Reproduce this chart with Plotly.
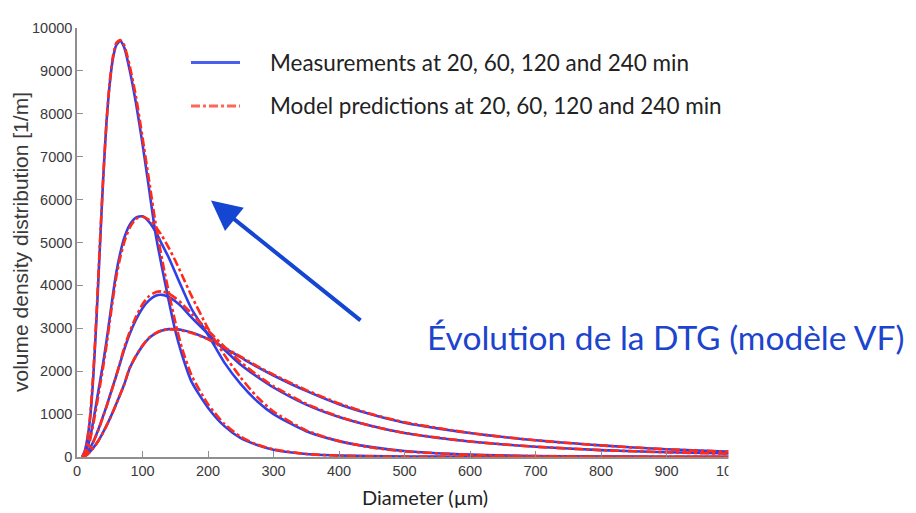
import plotly.graph_objects as go

# ---------------- data ----------------
diameter_um = [8, 12, 16, 20, 25, 30, 35, 40, 45, 50,
               55, 60, 66, 72, 80, 90, 100, 110, 120, 130,
               140, 150, 160, 175, 200, 225, 250, 275, 300, 350,
               400, 450, 500, 600, 700, 800, 900, 1000]

meas_240 = [0, 150, 450, 900, 1900, 3300, 4900, 6500, 7800, 8700,
            9300, 9600, 9700, 9550, 9050, 8250, 7300, 6250, 5200, 4400,
            3650, 2950, 2400, 1750, 1150, 720, 440, 280, 170, 70,
            35, 20, 12, 6, 3, 2, 1, 0]
model_240 = [0, 120, 420, 950, 2000, 3400, 5000, 6500, 7800, 8750,
             9350, 9650, 9720, 9600, 9150, 8400, 7450, 6450, 5450, 4600,
             3850, 3150, 2550, 1900, 1230, 770, 470, 290, 180, 70,
             30, 15, 8, 4, 2, 1, 1, 0]

meas_120 = [0, 80, 230, 450, 850, 1300, 1750, 2200, 2700, 3250,
            3800, 4300, 4750, 5100, 5400, 5580, 5610, 5480, 5250, 4950,
            4650, 4300, 3950, 3450, 2850, 2200, 1700, 1300, 1000, 600,
            370, 230, 140, 55, 25, 12, 6, 3]
model_120 = [0, 60, 190, 400, 780, 1200, 1650, 2100, 2600, 3150,
             3700, 4200, 4650, 5000, 5330, 5550, 5600, 5530, 5370, 5150,
             4880, 4580, 4250, 3750, 3000, 2380, 1850, 1400, 1060, 620,
             370, 220, 130, 50, 20, 10, 5, 2]

meas_60 = [0, 40, 110, 210, 360, 540, 740, 960, 1180, 1420,
           1660, 1900, 2200, 2500, 2850, 3200, 3470, 3650, 3760, 3780,
           3730, 3630, 3500, 3250, 2870, 2500, 2150, 1870, 1620, 1220,
           930, 720, 560, 360, 240, 160, 110, 80]
model_60 = [0, 35, 100, 200, 350, 530, 730, 950, 1170, 1410,
            1650, 1900, 2220, 2540, 2900, 3270, 3560, 3750, 3840, 3860,
            3810, 3710, 3580, 3340, 2950, 2570, 2210, 1910, 1650, 1240,
            940, 720, 560, 360, 240, 160, 110, 75]

meas_20 = [0, 25, 65, 125, 215, 320, 440, 580, 730, 890,
           1060, 1240, 1460, 1690, 2050, 2350, 2590, 2770, 2880, 2950,
           2980, 2980, 2960, 2900, 2750, 2540, 2320, 2100, 1900, 1540,
           1230, 990, 800, 560, 390, 270, 180, 120]
model_20 = [0, 20, 60, 120, 210, 315, 435, 575, 725, 885,
            1055, 1235, 1460, 1690, 2060, 2360, 2600, 2780, 2890, 2955,
            2975, 2970, 2950, 2890, 2750, 2550, 2340, 2120, 1920, 1560,
            1250, 1000, 810, 560, 390, 270, 180, 120]

x_ticks = [0, 100, 200, 300, 400, 500, 600, 700, 800, 900, 1000]
y_ticks = [0, 1000, 2000, 3000, 4000, 5000, 6000, 7000, 8000, 9000, 10000]

legend_labels = ["Measurements at 20, 60, 120 and 240 min",
                 "Model predictions at 20, 60, 120 and 240 min"]
x_title = "Diameter (µm)"
y_title = "volume density distribution [1/m]"
note_text = "Évolution de la DTG (modèle VF)"

measurements = [("20 min", meas_20), ("60 min", meas_60), ("120 min", meas_120), ("240 min", meas_240)]
models = [("20 min", model_20), ("60 min", model_60), ("120 min", model_120), ("240 min", model_240)]

# ---------------- figure ----------------
BLUE = "#3040e8"
RED = "#ff2a1a"
AXIS = "#8f8f8f"
TICKFONT = dict(family="Liberation Sans, Arial, sans-serif", size=14.5, color="#3a3a3a")
TEXTFONT = "Lato, 'Open Sans', sans-serif"

fig = go.Figure()
for lbl, ys in measurements:
    fig.add_trace(go.Scatter(
        x=diameter_um, y=ys, mode="lines", name="Measurement " + lbl,
        line=dict(color=BLUE, width=2.6, shape="spline", smoothing=0.6),
        showlegend=False, hoverinfo="skip"))
for lbl, ys in models:
    fig.add_trace(go.Scatter(
        x=diameter_um, y=ys, mode="lines", name="Model " + lbl,
        line=dict(color=RED, width=2.6, dash="dashdot", shape="spline", smoothing=0.6),
        showlegend=False, hoverinfo="skip"))

# page body has an 8px margin; layout numbers below are in screen pixels
OFF = 8
W, H = 916, 513
PLOT_L, PLOT_R, PLOT_T, PLOT_B = 77, 732, 22, 457   # screen pixels of the plot area
L = PLOT_L - OFF
T = PLOT_T - OFF
R = W - (PLOT_R - OFF)
B = H - (PLOT_B - OFF)
pw, ph = PLOT_R - PLOT_L, PLOT_B - PLOT_T


def px(sx):
    return (sx - PLOT_L) / pw


def py(sy):
    return (PLOT_B - sy) / ph


shapes = [
    # the reference picture is cropped at its right edge
    dict(type="rect", xref="paper", yref="paper", x0=px(728.5), x1=1.4, y0=-0.25, y1=1.1,
         fillcolor="white", line=dict(width=0), layer="above"),
    # legend samples
    dict(type="line", xref="paper", yref="paper", x0=px(191), x1=px(240), y0=py(57), y1=py(57),
         line=dict(color="#4a5ff0", width=3), layer="above"),
    dict(type="line", xref="paper", yref="paper", x0=px(191), x1=px(240), y0=py(101), y1=py(101),
         line=dict(color="#ff6655", width=3, dash="dashdot"), layer="above"),
]

annotations = [
    dict(text=legend_labels[0], xref="paper", yref="paper", x=px(268), y=py(57),
         xanchor="left", yanchor="middle", showarrow=False,
         font=dict(family=TEXTFONT, size=22.5, color="#222222")),
    dict(text=legend_labels[1], xref="paper", yref="paper", x=px(268), y=py(101),
         xanchor="left", yanchor="middle", showarrow=False,
         font=dict(family=TEXTFONT, size=22.5, color="#222222")),
    dict(text=x_title, xref="paper", yref="paper", x=px(425), y=py(498),
         xanchor="center", yanchor="middle", showarrow=False,
         font=dict(family=TEXTFONT, size=20, color="#222222")),
    dict(text=y_title, xref="paper", yref="paper", x=px(20), y=py(239), textangle=-90,
         xanchor="center", yanchor="middle", showarrow=False, borderpad=0,
         font=dict(family="Liberation Sans, Arial, sans-serif", size=21, color="#3a3a3a")),
    dict(text=note_text, xref="paper", yref="paper", x=px(425), y=py(335),
         xanchor="left", yanchor="middle", showarrow=False,
         font=dict(family=TEXTFONT, size=33.5, color="#1c44cc")),
    dict(text="", xref="paper", yref="paper", x=px(211), y=py(197),
         ax=151, ay=121, showarrow=True, arrowhead=2, arrowsize=1.5,
         arrowwidth=4, arrowcolor="#1446d2", standoff=0, startstandoff=0),
]

fig.update_layout(
    width=W, height=H,
    margin=dict(l=L, r=R, t=T, b=B, pad=0),
    paper_bgcolor="white", plot_bgcolor="white",
    showlegend=False,
    shapes=shapes, annotations=annotations,
    xaxis=dict(range=[0, 1000], tickvals=x_ticks, ticktext=[str(v) for v in x_ticks],
               ticks="inside", ticklen=6, tickcolor=AXIS, tickwidth=1,
               showline=True, linecolor=AXIS, linewidth=1.5, mirror=False,
               showgrid=False, zeroline=False, tickfont=TICKFONT),
    yaxis=dict(range=[0, 10000], tickvals=y_ticks, ticktext=[str(v) for v in y_ticks],
               ticks="inside", ticklen=6, tickcolor=AXIS, tickwidth=1,
               showline=True, linecolor=AXIS, linewidth=1.5, mirror=False,
               showgrid=False, zeroline=False, tickfont=TICKFONT),
)

fig.write_html("out.html")
